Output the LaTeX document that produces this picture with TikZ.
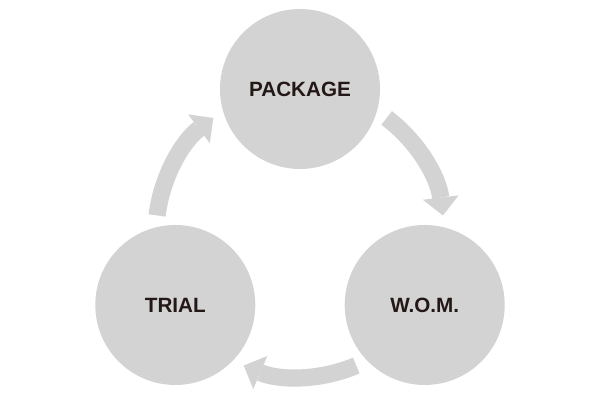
\documentclass[tikz,border=0pt]{standalone}
\usepackage{fontspec}
\setmainfont{Liberation Sans}
\usetikzlibrary{arrows.meta}
\definecolor{cyclegray}{RGB}{211,211,211}
\definecolor{labelblack}{RGB}{35,24,21}

\begin{document}
\begin{tikzpicture}[>={Triangle[width=0.9cm,length=0.45cm,line width=0pt]},
  font=\fontsize{14.7}{17}\selectfont\bfseries,
  stage/.style={circle,fill=cyclegray,minimum size=4cm,inner sep=0pt,text=labelblack},
  turn/.style={->,cyclegray,line width=0.43cm}]
\useasboundingbox (0,0) rectangle (15,10);
\coordinate (hub) at (7.5,4.175);
\node[stage] (package) at ([shift={(90:3.6)}]hub) {PACKAGE};
\node[stage] (trial) at ([shift={(210:3.6)}]hub) {TRIAL};
\node[stage] (wom) at ([shift={(330:3.6)}]hub) {W.O.M.};
\foreach \a in {53,173,293}
  \draw[turn] ([shift={(\a:3.6)}]hub) arc[start angle=\a,end angle=\a-46,radius=3.6];
\end{tikzpicture}
\end{document}
